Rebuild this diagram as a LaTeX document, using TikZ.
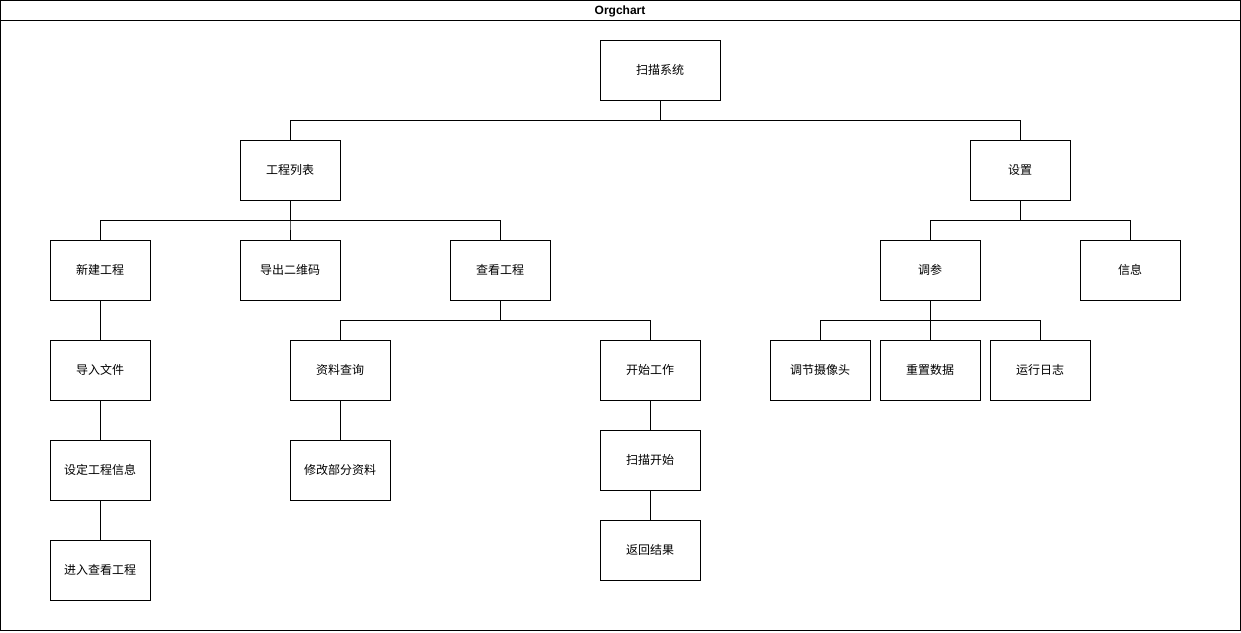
\documentclass[tikz,border=0pt]{standalone}
\usepackage{fontspec}
\setmainfont{Liberation Sans}
\newfontfamily\cjk{Noto Sans CJK SC}
\begin{document}
\begin{tikzpicture}[x=1pt,y=-1pt,
  box/.style={draw=black, line width=1pt, fill=white, minimum width=100pt, minimum height=60pt, inner sep=0pt, font=\cjk\fontsize{12}{14}\selectfont},
  link/.style={draw=black, line width=1pt},
  frame/.style={draw=black, line width=1pt}]
\useasboundingbox (0,0) rectangle (1241,632);
% outer container with title bar
\draw[frame] (0.5,0.5) rectangle (1240.5,630.5);
\draw[frame] (0.5,20.5) -- (1240.5,20.5);
\node[font=\bfseries\fontsize{12}{14}\selectfont] (title) at (620,11) {Orgchart};
% nodes
\node[box, minimum width=120pt] (root) at (660,70) {扫描系统};
\node[box] (gclb) at (290,170) {工程列表};
\node[box] (shezhi) at (1020,170) {设置};
\node[box] (xjgc) at (100,270) {新建工程};
\node[box] (dcewm) at (290,270) {导出二维码};
\node[box] (ckgc) at (500,270) {查看工程};
\node[box] (tiaocan) at (930,270) {调参};
\node[box] (xinxi) at (1130,270) {信息};
\node[box] (drwj) at (100,370) {导入文件};
\node[box] (zlcx) at (340,370) {资料查询};
\node[box] (ksgz) at (650,370) {开始工作};
\node[box] (tjsxt) at (820,370) {调节摄像头};
\node[box] (czsj) at (930,370) {重置数据};
\node[box] (yxrz) at (1040,370) {运行日志};
\node[box] (sdgc) at (100,470) {设定工程信息};
\node[box] (xgbf) at (340,470) {修改部分资料};
\node[box] (smks) at (650,460) {扫描开始};
\node[box] (jrck) at (100,570) {进入查看工程};
\node[box] (fhjg) at (650,550) {返回结果};
% tree connectors
\foreach \c in {gclb,shezhi} \draw[link] (root.south) |- ++(0,20) -| (\c.north);
\foreach \c in {xjgc,dcewm,ckgc} \draw[link] (gclb.south) |- ++(0,20) -| (\c.north);
\foreach \c in {zlcx,ksgz} \draw[link] (ckgc.south) |- ++(0,20) -| (\c.north);
\foreach \c in {tiaocan,xinxi} \draw[link] (shezhi.south) |- ++(0,20) -| (\c.north);
\foreach \c in {tjsxt,czsj,yxrz} \draw[link] (tiaocan.south) |- ++(0,20) -| (\c.north);
\draw[link] (xjgc) -- (drwj);
\draw[link] (drwj) -- (sdgc);
\draw[link] (sdgc) -- (jrck);
\draw[link] (zlcx) -- (xgbf);
\draw[link] (ksgz) -- (smks);
\draw[link] (smks) -- (fhjg);
\end{tikzpicture}
\end{document}
